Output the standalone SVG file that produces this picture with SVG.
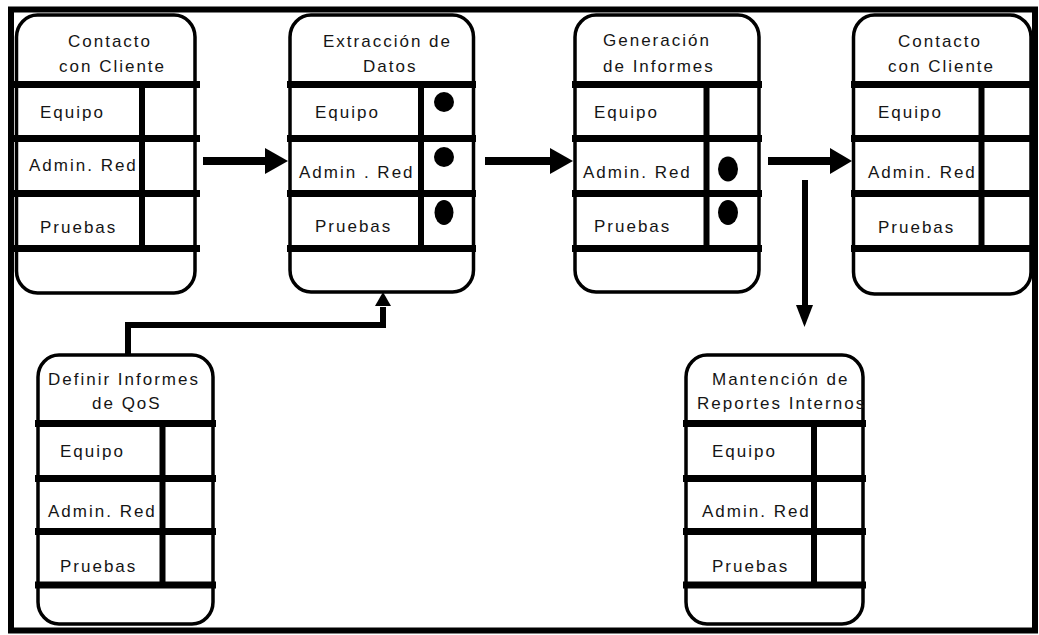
<svg xmlns="http://www.w3.org/2000/svg" width="1039" height="635" viewBox="0 0 1039 635">
<style>
.frame{fill:none;stroke:#000;stroke-width:6}
.box{fill:#fff;stroke:#000;stroke-width:3.5}
.row{stroke:#000;stroke-width:7;fill:none}
.div{stroke:#000;stroke-width:6;fill:none}
.t{font-family:"Liberation Sans",Arial,sans-serif;font-size:17px;letter-spacing:2px;fill:#151515}
.dot{fill:#000}
.ln{stroke:#000;fill:none;stroke-width:8}
.lnv{stroke:#000;fill:none;stroke-width:6}
.hd{fill:#000}
</style>
<rect width="1039" height="635" fill="#fff"/>
<rect class="frame" x="11" y="9.5" width="1024" height="621"/>

<g id="n1">
<rect class="box" x="16.5" y="15" width="178.5" height="278" rx="21" ry="22"/>
<path class="row" d="M14 84.5H200M14 138.5H200M14 193.5H200M14 248.5H200"/>
<path class="div" d="M142 84.5V248.5"/>
<text class="t" x="68" y="47">Contacto</text>
<text class="t" x="59" y="72">con Cliente</text>
<text class="t" x="40" y="118">Equipo</text>
<text class="t" x="29" y="171">Admin. Red</text>
<text class="t" x="40" y="233">Pruebas</text>
</g>

<g id="n2">
<rect class="box" x="290" y="15" width="183.5" height="277" rx="21" ry="22"/>
<path class="row" d="M287 84.5H476M287 138.5H476M287 193.5H476M287 248.5H476"/>
<path class="div" d="M421 84.5V248.5"/>
<ellipse class="dot" cx="444" cy="102" rx="10" ry="10"/>
<ellipse class="dot" cx="444" cy="157" rx="10" ry="10"/>
<ellipse class="dot" cx="444" cy="212.5" rx="9.5" ry="12.5"/>
<text class="t" x="323" y="47">Extracción de</text>
<text class="t" x="363" y="72">Datos</text>
<text class="t" x="315" y="118">Equipo</text>
<text class="t" x="299" y="178">Admin . Red</text>
<text class="t" x="315" y="232">Pruebas</text>
</g>

<g id="n3">
<rect class="box" x="575" y="15" width="184" height="277" rx="21" ry="22"/>
<path class="row" d="M572 84.5H762M572 138.5H762M572 193.5H762M572 248.5H762"/>
<path class="div" d="M706.5 84.5V248.5"/>
<ellipse class="dot" cx="728" cy="169" rx="10" ry="12.5"/>
<ellipse class="dot" cx="728" cy="212.5" rx="10" ry="12.5"/>
<text class="t" x="603" y="46">Generación</text>
<text class="t" x="603" y="72">de Informes</text>
<text class="t" x="594" y="118">Equipo</text>
<text class="t" x="583" y="178">Admin. Red</text>
<text class="t" x="594" y="232">Pruebas</text>
</g>

<g id="n4">
<rect class="box" x="853.5" y="15" width="177.5" height="279" rx="21" ry="22"/>
<path class="row" d="M851 84.5H1035M851 138.5H1035M851 193.5H1035M851 248.5H1035"/>
<path class="div" d="M981.5 84.5V248.5"/>
<text class="t" x="898" y="47">Contacto</text>
<text class="t" x="888" y="72">con Cliente</text>
<text class="t" x="878" y="118">Equipo</text>
<text class="t" x="868" y="178">Admin. Red</text>
<text class="t" x="878" y="233">Pruebas</text>
</g>

<g id="n5">
<rect class="box" x="38" y="355" width="175" height="269" rx="21" ry="22"/>
<path class="row" d="M35 423.5H216M35 478.5H216M35 531.5H216M35 585H216"/>
<path class="div" d="M162.5 423.5V585"/>
<text class="t" x="48" y="385" letter-spacing="1.7">Definir Informes</text>
<text class="t" x="92" y="409">de QoS</text>
<text class="t" x="60" y="457">Equipo</text>
<text class="t" x="48" y="517">Admin. Red</text>
<text class="t" x="60" y="572">Pruebas</text>
</g>

<g id="n6">
<rect class="box" x="686" y="355" width="177" height="269" rx="21" ry="22"/>
<path class="row" d="M683 423.5H866M683 478.5H866M683 531.5H866M683 585H866"/>
<path class="div" d="M814 423.5V585"/>
<text class="t" x="712" y="385">Mantención de</text>
<text class="t" x="697" y="409" letter-spacing="1.75">Reportes Internos</text>
<text class="t" x="712" y="457">Equipo</text>
<text class="t" x="702" y="517">Admin. Red</text>
<text class="t" x="712" y="572">Pruebas</text>
</g>

<g id="connectors">
<path class="ln" d="M203 161H267"/>
<polygon class="hd" points="265,148 288,161 265,174"/>
<path class="ln" d="M485 161H552"/>
<polygon class="hd" points="550,148 573,161 550,174"/>
<path class="ln" d="M768 161H832"/>
<polygon class="hd" points="830,148 852,161 830,174"/>
<path class="lnv" d="M805 180V307"/>
<polygon class="hd" points="796,305 813,305 804.5,327"/>
<path class="lnv" d="M128 355V325H383V307"/>
<polygon class="hd" points="375,306 391,306 383,292"/>
</g>
</svg>
